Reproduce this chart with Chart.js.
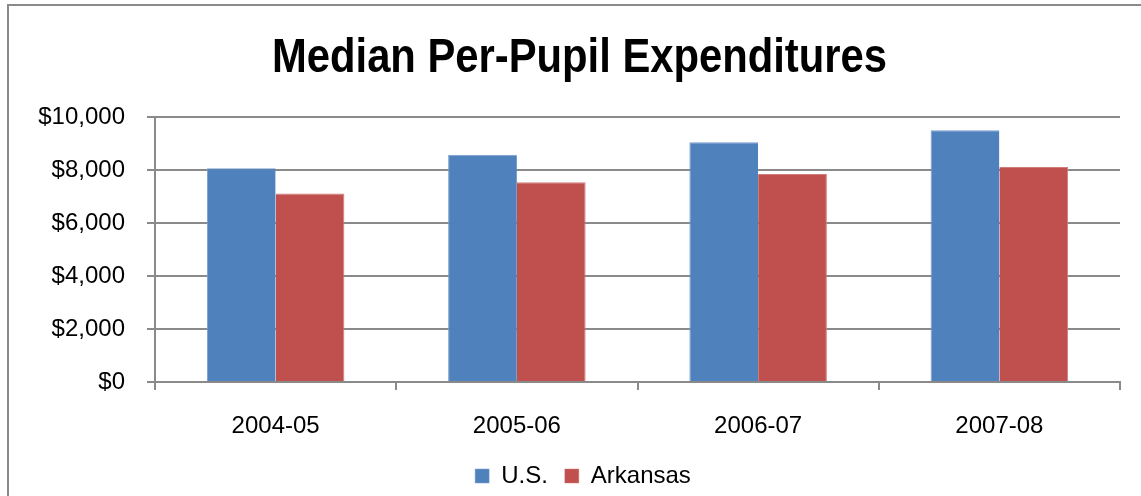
<!DOCTYPE html>
<html>
<head>
<meta charset="utf-8">
<script src="https://cdn.jsdelivr.net/npm/chart.js@4.4.1/dist/chart.umd.min.js"></script>
<style>
  html, body { margin: 0; padding: 0; width: 1141px; height: 496px; overflow: hidden; background: #fff; }
  #frame { position: absolute; left: 7px; top: 4px; width: 1300px; height: 700px; border: 2px solid #8a8a8a; box-sizing: border-box; }
  #wrap { position: absolute; left: 0; top: 0; width: 1141px; height: 496px; }
</style>
</head>
<body>
<div id="frame"></div>
<div id="wrap"><canvas id="c" width="1141" height="496"></canvas></div>
<script>
const categories = ['2004-05', '2005-06', '2006-07', '2007-08'];
const usValues = [8064, 8577, 9045, 9498];
const arkansasValues = [7117, 7536, 7849, 8113];
const seriesNames = ['U.S.', 'Arkansas'];
const chartTitle = 'Median Per-Pupil Expenditures';

const baseFamily = '"Liberation Sans", Arial, sans-serif';
const gridColor = '#8a8a8a';
const tickFont = { family: baseFamily, size: 24 };

const layoutTweaks = {
  id: 'layoutTweaks',
  afterInit(chart) {
    const lg = chart.legend;
    if (lg && !lg._patched) {
      const origFit = lg.fit.bind(lg);
      lg.fit = function () { origFit(); this.height = 49; };
      lg._patched = true;
    }
  },
  afterLayout(chart) {
    // centre the legend under the plot like the reference
    if (chart.legend) { chart.legend.left += 23; chart.legend.right += 23; }
  },
  afterDraw(chart) {
    // Title drawn as condensed bold text (reference uses a narrow bold face)
    const ctx = chart.ctx;
    ctx.save();
    ctx.font = 'bold 48px ' + baseFamily;
    ctx.fillStyle = '#000';
    ctx.textBaseline = 'alphabetic';
    ctx.textAlign = 'center';
    const w = ctx.measureText(chartTitle).width;
    ctx.translate(579.5, 72);
    ctx.scale(615 / w, 1);
    ctx.fillText(chartTitle, 0, 0);
    ctx.restore();
  }
};

new Chart(document.getElementById('c'), {
  type: 'bar',
  data: {
    labels: categories,
    datasets: [
      { label: seriesNames[0], data: usValues, backgroundColor: '#4F81BD', borderColor: '#7A9ED0', borderWidth: { top: 1, left: 1, right: 0, bottom: 0 } },
      { label: seriesNames[1], data: arkansasValues, backgroundColor: '#C0504D', borderColor: '#D07C7A', borderWidth: { top: 1, left: 0, right: 1, bottom: 0 } }
    ]
  },
  plugins: [layoutTweaks],
  options: {
    responsive: false,
    animation: false,
    devicePixelRatio: 1,
    layout: { padding: { left: 0, right: 21, top: 117, bottom: 0 } },
    datasets: { bar: { categoryPercentage: 0.57, barPercentage: 1.0 } },
    plugins: {
      title: { display: false },
      legend: {
        position: 'bottom',
        labels: {
          color: '#000',
          font: { family: baseFamily, size: 24, lineHeight: 1 },
          boxWidth: 14,
          boxHeight: 14,
          padding: 17
        }
      },
      tooltip: { enabled: false }
    },
    scales: {
      x: {
        grid: { drawOnChartArea: false, drawTicks: true, tickLength: 8, color: gridColor, lineWidth: 2 },
        border: { display: true, color: gridColor, width: 2 },
        ticks: { color: '#000', font: tickFont, padding: 22 },
        afterFit: s => { s.height = 65; }
      },
      y: {
        min: 0,
        max: 10000,
        ticks: {
          stepSize: 2000,
          color: '#000',
          font: tickFont,
          padding: 22,
          callback: v => '$' + v.toLocaleString('en-US')
        },
        grid: { color: gridColor, lineWidth: 2, tickLength: 8 },
        border: { display: true, color: gridColor, width: 2 },
        afterFit: s => { s.width = 155; }
      }
    }
  }
});
</script>
</body>
</html>
